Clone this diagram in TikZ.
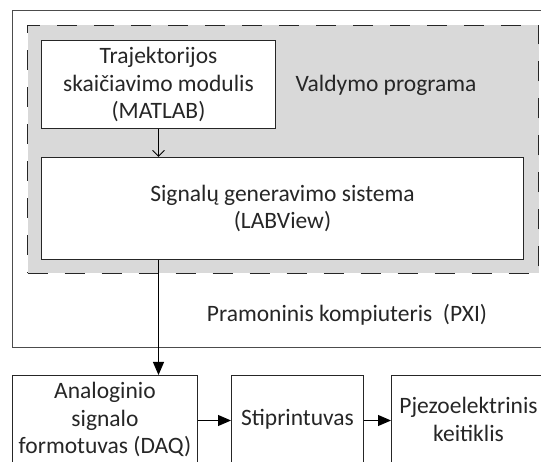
\documentclass[tikz,border=0pt]{standalone}
\usepackage{fontspec}
\setmainfont{Carlito}
\usetikzlibrary{positioning, arrows.meta}

\begin{document}
\begin{tikzpicture}[
  x=1pt, y=-1pt,
  every node/.style={font=\fontsize{23.5}{27.5}\selectfont, text=black!85},
  block/.style={draw=black!85, fill=white, line width=1pt, align=center, inner sep=0pt, anchor=north west},
  frame/.style={draw=black!70, line width=1.2pt, inner sep=0pt, anchor=north west},
  program/.style={draw=black!85, fill=gray!30, line width=1pt, dash pattern=on 20pt off 17pt, inner sep=0pt, anchor=north west},
  arrow/.style={line width=0.9pt, -{Triangle[length=13pt, width=11pt]}},
  thin arrow/.style={line width=0.9pt, -{Straight Barb[length=6pt, width=12pt]}}
]
\useasboundingbox (0,0) rectangle (541,462);
\clip (0,0) rectangle (541,462);

\node[frame, minimum width=560pt, minimum height=337pt] (pc) at (12,10) {};
\node[program, minimum width=511pt, minimum height=248pt] (prog) at (27,25) {};

\node[block, minimum width=234pt, minimum height=88pt] (traj) at (41,40) {Trajektorijos\\skaičiavimo modulis\\(MATLAB)};
\node at (386,85) {Valdymo programa};
\node[block, minimum width=482pt, minimum height=102pt] (sig) at (41,157) {Signalų generavimo sistema\\(LABView)};

\node at (347,315) {Pramoninis kompiuteris~~(PXI)};

\node[block, minimum width=185pt, minimum height=88pt] (daq) at (12,375) {Analoginio\\signalo\\formotuvas (DAQ)};
\node[block, minimum width=132pt, minimum height=88pt] (amp) at (231,375) {Stiprintuvas};
\node[block, minimum width=154pt, minimum height=88pt] (piezo) at (391,375) {Pjezoelektrinis\\keitiklis};

\draw[thin arrow] (traj.south) -- (traj.south |- sig.north);
\draw[arrow] (traj.south |- sig.south) -- (traj.south |- daq.north);
\draw[arrow] ([yshift=-1pt]daq.east) -- ([yshift=-1pt]amp.west);
\draw[arrow] ([yshift=-1pt]amp.east) -- ([yshift=-1pt]piezo.west);

\end{tikzpicture}
\end{document}
